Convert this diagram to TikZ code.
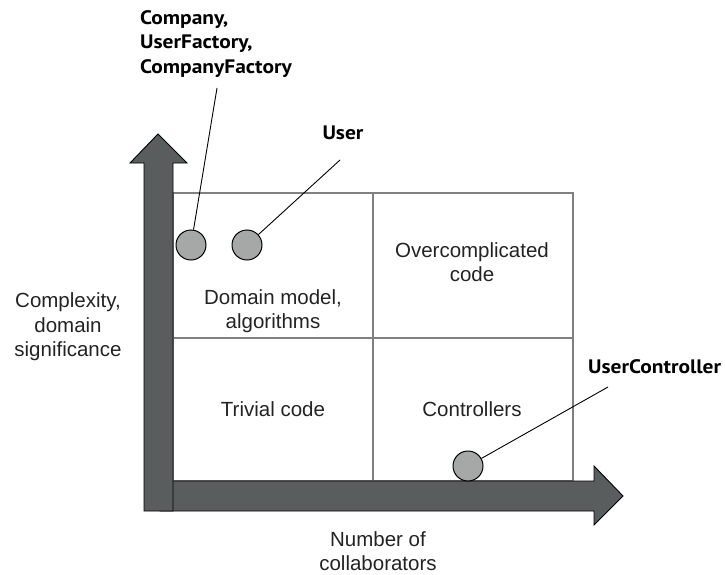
\documentclass[tikz,border=0pt]{standalone}
\usepackage{xcolor}
\usepackage{fontspec}
\usepackage{tikz}
\usetikzlibrary{positioning, calc}
\setmainfont{Liberation Sans}
\newfontfamily\tagfont[FakeStretch=1.1]{PT Sans}
\definecolor{axisgrey}{RGB}{89, 93, 94}
\definecolor{gridgrey}{RGB}{128, 128, 128}
\definecolor{dotgrey}{RGB}{166, 168, 168}
\definecolor{inkgrey}{RGB}{35, 35, 35}

\begin{document}
\begin{tikzpicture}[x=1pt, y=-1pt,
    txt/.style={text=inkgrey, align=center, inner sep=0pt,
        font=\fontsize{20.5}{24.5}\selectfont},
    tag/.style={text=black, align=left, inner sep=0pt,
        font=\tagfont\bfseries\fontsize{19.5}{24.7}\selectfont},
    dot/.style={circle, draw=black, fill=dotgrey, line width=1pt,
        minimum size=30pt, inner sep=0pt},
    leader/.style={draw=black, line width=0.9pt}]
        \useasboundingbox (0,0) rectangle (725,575);

        % Quadrants
        \draw[gridgrey, line width=1.5pt] (173,193) rectangle (573,481);
        \draw[gridgrey, line width=1.5pt] (373,193) -- (373,481);
        \draw[gridgrey, line width=1.5pt] (173,338) -- (573,338);

        % Axes
        \filldraw[fill=axisgrey, draw=black, line width=0.9pt]
            (160,481) -- (594,481) -- (594,466) -- (623,496)
            -- (594,525) -- (594,511) -- (160,511) -- cycle;
        \filldraw[fill=axisgrey, draw=black, line width=0.9pt]
            (144,511) -- (144,163) -- (130,163) -- (158,134)
            -- (187,163) -- (173,163) -- (173,511) -- cycle;

        % Quadrant texts
        \node[txt] (domain) at (273,311) {Domain model,\\algorithms};
        \node[txt] (overcomp) at (472,262) {Overcomplicated\\code};
        \node[txt] (trivial) at (273,409) {Trivial code};
        \node[txt] (ctrls) at (472,409) {Controllers};

        % Axis texts
        \node[txt] (yaxis) at (68,327) {Complexity,\\domain\\significance};
        \node[txt] (xaxis) at (378,551) {Number of\\collaborators};

        % Classes
        \node[dot] (company) at (191,245) {};
        \node[dot] (user) at (247,245) {};
        \node[dot] (userctrl) at (468,466) {};

        \node[tag, anchor=west] (companytag) at (140,44)
            {Company,\\UserFactory,\\CompanyFactory};
        \node[tag] (usertag) at (343,133) {User};
        \node[tag, anchor=west] (userctrltag) at (588,367) {UserController};

        \coordinate (companyend) at (217,88);
        \coordinate (userend) at (340,160);
        \coordinate (userctrlend) at (608,387);

        \draw[leader] (company) -- (companyend);
        \draw[leader] (user) -- (userend);
        \draw[leader] (userctrl) -- (userctrlend);
    \end{tikzpicture}
\end{document}
